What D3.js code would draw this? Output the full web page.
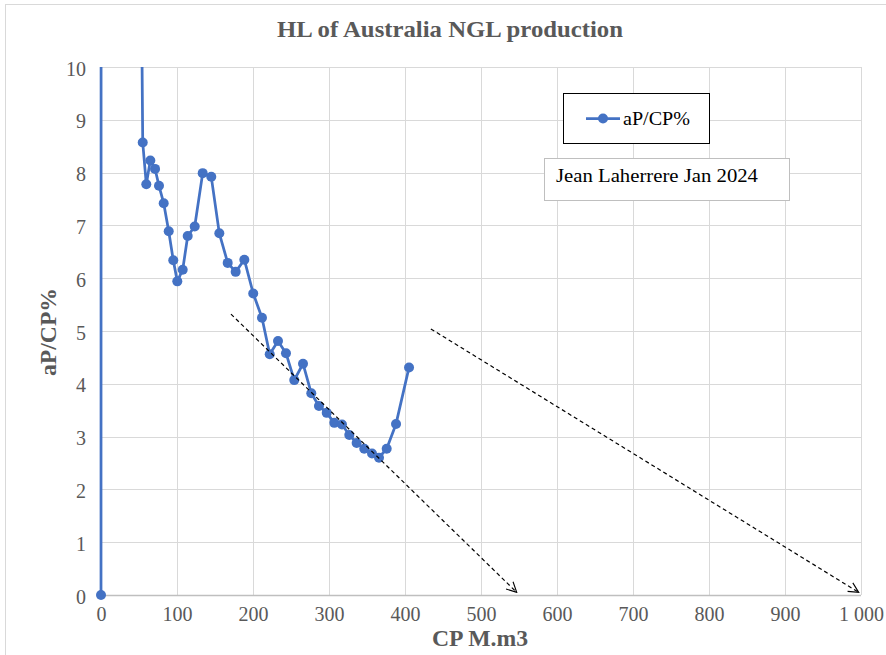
<!DOCTYPE html>
<html>
<head>
<meta charset="utf-8">
<script src="https://cdn.jsdelivr.net/npm/d3@7"></script>
<style>
  html, body { margin: 0; padding: 0; background: #fff; }
  svg { display: block; }
</style>
</head>
<body>
<svg id="chart" width="886" height="655"></svg>
<script>
// Cumulative production (M.m3) and annual production / cumulative production (%)
const cpValues = [0, 1, 54.9, 59.6, 64.9, 71.1, 76.3, 82.5, 89.1, 95.1, 100.4, 107.5, 114.1, 123.3,
  133.8, 145.1, 155.7, 166.7, 177.2, 188.6, 200.3, 211.8, 222.0, 232.9, 243.4, 254.3, 265.8,
  276.7, 286.8, 297.0, 307.0, 317.1, 326.7, 336.4, 346.4, 356.6, 365.8, 375.9, 388.2, 405.3];
const apcpValues = [0, 100, 8.57, 7.78, 8.23, 8.07, 7.75, 7.42, 6.89, 6.34, 5.94, 6.16, 6.80, 6.98,
  7.99, 7.92, 6.85, 6.29, 6.12, 6.35, 5.71, 5.25, 4.56, 4.81, 4.58, 4.07, 4.38,
  3.82, 3.58, 3.45, 3.26, 3.23, 3.03, 2.88, 2.77, 2.68, 2.60, 2.77, 3.24, 4.31];

// Extrapolated decline trends (dashed arrows)
const trendStartX = [171, 434];
const trendStartY = [5.32, 5.04];
const trendEndX = [547, 997];
const trendEndY = [0.05, 0.05];

const xTicks = [0, 100, 200, 300, 400, 500, 600, 700, 800, 900, 1000];
const yTicks = [0, 1, 2, 3, 4, 5, 6, 7, 8, 9, 10];

const svg = d3.select("#chart");
const W = 886, H = 655;
const m = { left: 101, right: 25, top: 67, bottom: 60 };
const plotW = W - m.left - m.right;   // 760
const plotH = H - m.top - m.bottom;   // 528

const x = d3.scaleLinear().domain([0, 1000]).range([m.left, m.left + plotW]);
const y = d3.scaleLinear().domain([0, 10]).range([m.top + plotH, m.top]);

const serif = "'Liberation Serif', 'Times New Roman', serif";
const blue = "#4472c4";
const grey = "#595959";

// outer frame
svg.append("rect").attr("x", 5.5).attr("y", 4.5).attr("width", W).attr("height", H)
  .attr("fill", "none").attr("stroke", "#d9d9d9").attr("stroke-width", 1);

// gridlines
const grid = svg.append("g");
grid.selectAll("line.v").data(xTicks).join("line")
  .attr("x1", d => Math.round(x(d)) + 0.5).attr("x2", d => Math.round(x(d)) + 0.5)
  .attr("y1", y(10)).attr("y2", y(0))
  .attr("stroke", "#d9d9d9").attr("stroke-width", 1);
grid.selectAll("line.h").data(yTicks.filter(d => d > 0)).join("line")
  .attr("x1", x(0)).attr("x2", x(1000))
  .attr("y1", d => Math.round(y(d)) + 0.5).attr("y2", d => Math.round(y(d)) + 0.5)
  .attr("stroke", "#d9d9d9").attr("stroke-width", 1);
// baseline
svg.append("line").attr("x1", x(0)).attr("x2", x(1000))
  .attr("y1", Math.round(y(0)) + 0.5).attr("y2", Math.round(y(0)) + 0.5)
  .attr("stroke", "#bfbfbf").attr("stroke-width", 1.5);

// tick labels through d3 axes
const fmt = d => d === 1000 ? "1 000" : String(d);
const xAxis = svg.append("g").attr("transform", `translate(0,${y(0)})`)
  .call(d3.axisBottom(x).tickValues(xTicks).tickFormat(fmt).tickSize(0).tickPadding(12));
xAxis.select(".domain").remove();
xAxis.selectAll("text").style("font-family", serif).style("font-size", "20px").attr("fill", grey);

const yAxis = svg.append("g").attr("transform", `translate(${x(0)},0)`)
  .call(d3.axisLeft(y).tickValues(yTicks).tickSize(0).tickPadding(15));
yAxis.select(".domain").remove();
yAxis.selectAll("text").style("font-family", serif).style("font-size", "20px").attr("fill", grey)
  .attr("dy", "0.4em");

// title and axis titles
function label(sel, txt, size, bold, len) {
  return sel.style("font-family", serif).style("font-size", size + "px")
    .attr("font-weight", bold ? "bold" : "normal")
    .attr("textLength", len).attr("lengthAdjust", "spacingAndGlyphs").text(txt);
}
label(svg.append("text").attr("x", 450).attr("y", 37).attr("text-anchor", "middle").attr("fill", grey),
  "HL of Australia NGL production", 23, true, 346);
label(svg.append("text").attr("x", 480).attr("y", 646).attr("text-anchor", "middle").attr("fill", grey),
  "CP M.m3", 23, true, 96);
label(svg.append("text").attr("transform", "translate(56,332) rotate(-90)").attr("text-anchor", "middle").attr("fill", grey),
  "aP/CP%", 23, true, 88);

// clip for the series (only cut at the top of the plot)
svg.append("defs").append("clipPath").attr("id", "plotClip")
  .append("rect").attr("x", 0).attr("y", m.top).attr("width", W).attr("height", H - m.top);

const data = cpValues.map((c, i) => ({ cp: c, v: apcpValues[i] }));
const series = svg.append("g").attr("clip-path", "url(#plotClip)");
series.append("path").datum(data)
  .attr("d", d3.line().x(d => x(d.cp)).y(d => y(d.v)))
  .attr("fill", "none").attr("stroke", blue).attr("stroke-width", 2.75).attr("stroke-linejoin", "round");
series.selectAll("circle").data(data).join("circle")
  .attr("cx", d => x(d.cp)).attr("cy", d => y(d.v)).attr("r", 5)
  .attr("fill", blue);

// trend arrows
const defs = svg.select("defs");
defs.append("marker").attr("id", "arrowOpen").attr("viewBox", "0 0 12 12")
  .attr("refX", 11).attr("refY", 6).attr("markerWidth", 12).attr("markerHeight", 12)
  .attr("markerUnits", "userSpaceOnUse").attr("orient", "auto")
  .append("path").attr("d", "M1,1 L11,6 L1,11").attr("fill", "none").attr("stroke", "#000").attr("stroke-width", 1.1);
trendStartX.forEach((sx, i) => {
  svg.append("line")
    .attr("x1", x(sx)).attr("y1", y(trendStartY[i]))
    .attr("x2", x(trendEndX[i])).attr("y2", y(trendEndY[i]))
    .attr("stroke", "#000").attr("stroke-width", 1.2).attr("stroke-dasharray", "4,3")
    .attr("marker-end", "url(#arrowOpen)");
});

// legend
const lg = svg.append("g");
lg.append("rect").attr("x", 563.5).attr("y", 93.5).attr("width", 146).attr("height", 50)
  .attr("fill", "#fff").attr("stroke", "#000").attr("stroke-width", 1);
lg.append("line").attr("x1", 586).attr("x2", 620).attr("y1", 118.5).attr("y2", 118.5)
  .attr("stroke", blue).attr("stroke-width", 2.75);
lg.append("circle").attr("cx", 603).attr("cy", 118.5).attr("r", 5).attr("fill", blue);
label(lg.append("text").attr("x", 623).attr("y", 124.5).attr("fill", "#000"), "aP/CP%", 19, false, 67);

// author note
const note = svg.append("g");
note.append("rect").attr("x", 544.5).attr("y", 158.5).attr("width", 245).attr("height", 42)
  .attr("fill", "#fff").attr("stroke", "#bfbfbf").attr("stroke-width", 1);
label(note.append("text").attr("x", 556).attr("y", 181.5).attr("fill", "#000"),
  "Jean Laherrere Jan 2024", 19, false, 202);
</script>
</body>
</html>
